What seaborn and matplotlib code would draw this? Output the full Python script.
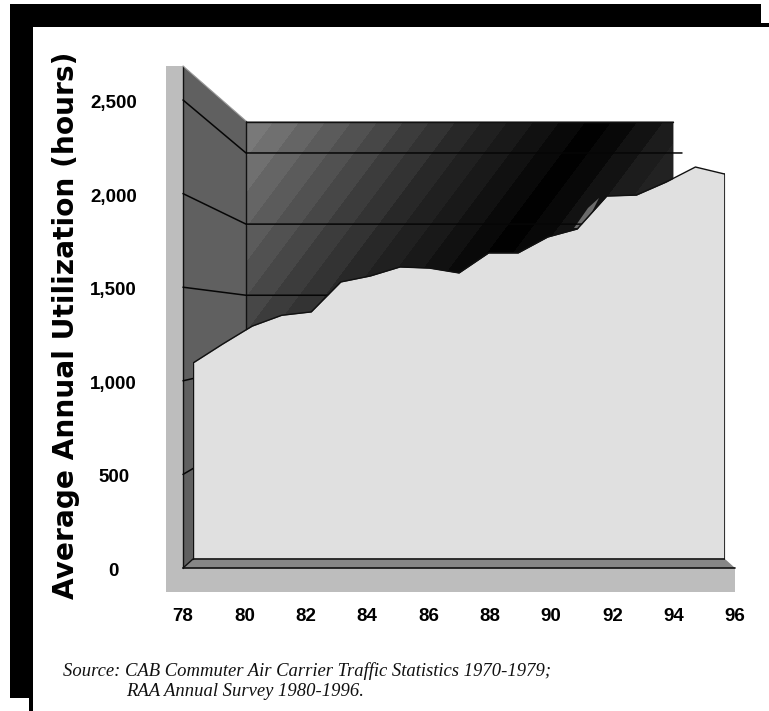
import numpy as np
import pandas as pd
import matplotlib
matplotlib.use("Agg")
import matplotlib.pyplot as plt
from matplotlib.patches import Rectangle, Polygon
from matplotlib.transforms import ScaledTranslation
import seaborn as sns

years = list(range(78, 97))
hours = [1095, 1196, 1292, 1350, 1368, 1528, 1560, 1608, 1602, 1576, 1683,
         1683, 1768, 1811, 1987, 1992, 2061, 2142, 2104]
x_ticks = [78, 80, 82, 84, 86, 88, 90, 92, 94, 96]
y_ticks = [0, 500, 1000, 1500, 2000, 2500]
y_labels = ["0", "500", "1,000", "1,500", "2,000", "2,500"]
y_title = "Average Annual Utilization (hours)"
source_1 = "Source: CAB Commuter Air Carrier Traffic Statistics 1970-1979;"
source_2 = "RAA Annual Survey 1980-1996."

sns.set_theme(style="white")
W, H = 769, 711
fig = plt.figure(figsize=(W / 100, H / 100), dpi=100, facecolor="white")

# ---- page furniture and 3-D walls, in pixel space
bg = fig.add_axes([0, 0, 1, 1])
bg.set_axis_off()
LIGHT, SIDE, FLOOR = "#bdbdbd", "#606060", "#868686"
tt = np.arange(246, 673)[None, :] + 0.75 * np.arange(121, 559)[:, None]
band = np.floor(tt / 26) * 26
shade = np.interp(band, [337, 550, 640, 680, 770, 830], [122, 40, 12, 0, 34, 34])
bg.imshow(shade, cmap="gray", vmin=0, vmax=255, extent=(246, 673, 559, 121),
          aspect="auto", interpolation="nearest", zorder=2)
bg.add_patch(Polygon([(574, 228), (588, 208), (599, 198), (592, 212), (580, 228)],
                     closed=True, fc="#6a6a6a", ec="none", zorder=3))
bg.add_patch(Polygon([(183, 66), (246, 121), (246, 559), (193, 559), (183, 568)],
                     closed=True, fc=SIDE, ec="none", zorder=1))
bg.add_patch(Rectangle((166, 66), 17, 526, fc=LIGHT, ec="none", zorder=1))
bg.add_patch(Rectangle((166, 568), 569, 24, fc=LIGHT, ec="none", zorder=1))
bg.add_patch(Polygon([(183, 568), (193, 559), (725, 559), (735, 568)],
                     closed=True, fc=FLOOR, ec="none", zorder=3))
for xs, ys, lw in [((183, 183), (66, 568), 1.0), ((246, 246), (121, 330), 1.0),
                   ((246, 673), (121.5, 121.5), 1.0), ((183, 193), (568, 559), 1.0),
                   ((183, 735), (568, 568), 1.2)]:
    bg.plot(xs, ys, color="#111111", lw=lw, zorder=4)
bg.plot((183, 246), (66, 121), color="#9a9a9a", lw=0.8, zorder=4)
bg.plot((246, 673, 673), (120.5, 120.5, 180), color="#9a9a9a", lw=0.7, zorder=3)
for r in [(10, 4, 23, 694), (29, 698, 4, 13), (10, 4, 751, 23), (761, 23, 8, 4)]:
    bg.add_patch(Rectangle(r[:2], r[2], r[3], fc="black", ec="none", zorder=5))
bg.set_xlim(0, W)
bg.set_ylim(H, 0)

# ---- axes carrying the tick labels and the receding gridlines
ax = fig.add_axes([183 / W, (H - 568) / H, 552 / W, 468 / H])
ax.patch.set_visible(False)
ax.set_xlim(78, 96)
ax.set_ylim(0, 2500)
sns.despine(ax=ax, left=True, bottom=True, top=True, right=True)
ax.set_xticks(x_ticks)
ax.set_xticklabels([str(v) for v in x_ticks], fontfamily="Liberation Sans", fontweight="bold",
                   fontsize=13.5, color="black")
ax.set_yticks(y_ticks)
ax.set_yticklabels(y_labels, fontfamily="Liberation Sans", fontweight="bold", fontsize=13.5,
                   color="black")
ax.tick_params(axis="y", length=0, pad=50)
ax.tick_params(axis="x", length=0, pad=28.5)
for t in ax.get_yticklabels():
    t.set_ha("center")
    t.set_transform(t.get_transform() + ScaledTranslation(0, -1.5 / 100, fig.dpi_scale_trans))
ax.grid(False)
back_x = 78 + (246 - 183) / 552 * 18
right_x = 78 + (682 - 183) / 552 * 18
for v in y_ticks[1:]:
    back = 2217 - (2500 - v) * 0.76
    ax.plot([78, back_x, right_x], [v, back, back], color="#060606", lw=1.1,
            clip_on=False, zorder=3)

# ---- front plane holding the data
df = pd.DataFrame({"year": years, "hours": hours})
front = fig.add_axes([193 / W, (H - 568) / H, 532 / W, 468 / H])
front.patch.set_visible(False)
front.set_xlim(78, 96)
front.set_ylim(0, 2500)
floor_val = 48
front.fill_between(df["year"], floor_val, df["hours"], color="#e0e0e0", lw=0, zorder=2)
sns.lineplot(data=df, x="year", y="hours", color="#111111", lw=1.0, ax=front, zorder=3,
             errorbar=None)
front.plot([78, 78], [floor_val, hours[0]], color="#111111", lw=1.0, zorder=3)
front.plot([96, 96], [floor_val, hours[-1]], color="#111111", lw=1.2, zorder=3)
front.plot([78, 96], [floor_val, floor_val], color="#111111", lw=1.2, zorder=3)
front.set_axis_off()

# ---- text
fig.text(66 / W, 1 - 325 / H, y_title, rotation=90, ha="center", va="center",
         fontfamily="DejaVu Sans", fontweight="bold", fontsize=20.2, color="black")
fig.text(63 / W, 1 - 671 / H, source_1, ha="left", va="center", fontfamily="Liberation Serif",
         style="italic", fontsize=13.45, color="#111111")
fig.text(126 / W, 1 - 691 / H, source_2, ha="left", va="center", fontfamily="Liberation Serif",
         style="italic", fontsize=13.45, color="#111111")

fig.savefig("out.png", dpi=100)
